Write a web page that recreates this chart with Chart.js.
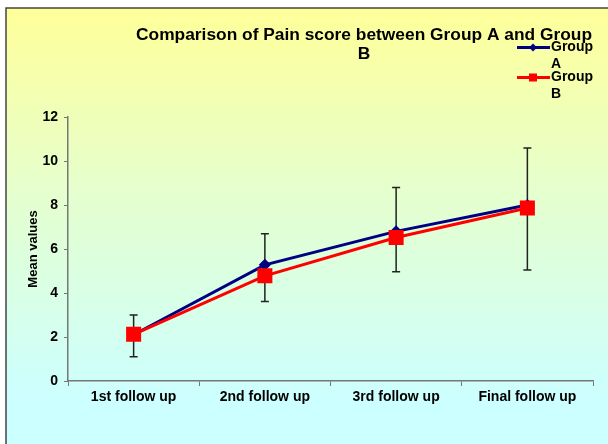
<!DOCTYPE html>
<html>
<head>
<meta charset="utf-8">
<script src="https://cdn.jsdelivr.net/npm/chart.js@4.4.0/dist/chart.umd.min.js"></script>
<style>
  html, body { margin: 0; padding: 0; background: #fff; overflow: hidden; }
  #wrap { width: 608px; height: 444px; }
</style>
</head>
<body>
<div id="wrap"><canvas id="myChart" width="608" height="444"></canvas></div>
<script>
const categories = ['1st follow up', '2nd follow up', '3rd follow up', 'Final follow up']
const groupA = [2.1, 5.28, 6.8, 8.0]
const groupB = [2.12, 4.78, 6.52, 7.86]
const errLow = [1.1, 3.61, 4.97, 5.05]
const errHigh = [3.0, 6.69, 8.8, 10.59]
const yTicks = [0, 2, 4, 6, 8, 10, 12]

const FONT = "'Liberation Sans', Arial, sans-serif"

// background + frame
const frame = {
  id: 'frame',
  beforeDraw(chart) {
    const c = chart.ctx
    c.save()
    c.fillStyle = '#fff'
    c.fillRect(0, 0, chart.width, chart.height)
    const g = c.createLinearGradient(0, 8, 0, 400)
    g.addColorStop(0, '#ffff99')
    g.addColorStop(0.45, '#e6ffcc')
    g.addColorStop(1, '#ccffff')
    c.fillStyle = g
    c.fillRect(6, 8, chart.width, chart.height)
    c.strokeStyle = '#444'
    c.lineWidth = 1.5
    c.strokeRect(6, 8, chart.width + 10, chart.height + 10)
    c.restore()
  }
}

// error bars drawn behind the lines
const errorBars = {
  id: 'errorBars',
  beforeDatasetsDraw(chart) {
    const c = chart.ctx
    const x = chart.scales.x
    const y = chart.scales.y
    c.save()
    c.strokeStyle = '#222'
    c.lineWidth = 1.5
    categories.forEach((cat, i) => {
      const px = x.getPixelForValue(i)
      const top = y.getPixelForValue(errHigh[i])
      const bot = y.getPixelForValue(errLow[i])
      c.beginPath()
      c.moveTo(px, top); c.lineTo(px, bot)
      c.moveTo(px - 4, top); c.lineTo(px + 4, top)
      c.moveTo(px - 4, bot); c.lineTo(px + 4, bot)
      c.stroke()
    })
    c.restore()
  }
}

// stretched text, the original title is drawn wide
const wideText = (c, txt, cx, cy, w) => {
  const m = c.measureText(txt).width
  c.save()
  c.translate(cx, cy)
  c.scale(w / m, 1)
  c.fillText(txt, 0, 0)
  c.restore()
}

// title and legend placed like the original
const titleLegend = {
  id: 'titleLegend',
  afterDraw(chart) {
    const c = chart.ctx
    c.save()
    c.fillStyle = '#000'
    c.textBaseline = 'middle'
    c.textAlign = 'center'
    c.font = 'bold 16px ' + FONT
    const line1 = 'Comparison of Pain score between Group A and Group'
    const k = 456 / c.measureText(line1).width
    wideText(c, line1, 364, 36, 456)
    wideText(c, 'B', 364, 55, c.measureText('B').width * k)

    const ds = chart.data.datasets
    const items = [[ds[0], 47.5], [ds[1], 77.5]]
    items.forEach(([d, ly]) => {
      c.strokeStyle = d.borderColor
      c.lineWidth = 3
      c.beginPath()
      c.moveTo(517, ly); c.lineTo(550, ly)
      c.stroke()
      c.fillStyle = d.borderColor
      if (d.pointStyle === 'rect') {
        c.fillRect(529, ly - 4, 8, 8)
      } else {
        c.beginPath()
        c.moveTo(533, ly - 4); c.lineTo(537, ly); c.lineTo(533, ly + 4); c.lineTo(529, ly)
        c.closePath(); c.fill()
      }
      c.fillStyle = '#000'
      c.textAlign = 'left'
      c.font = 'bold 14px ' + FONT
      const parts = d.label.split(' ')
      c.fillText(parts[0], 551, ly)
      c.fillText(parts[1], 551, ly + 16.5)
    })
    c.restore()
  }
}

const ctx = document.getElementById('myChart')

new Chart(ctx, {
  type: 'line',
  data: {
    labels: categories,
    datasets: [{
      label: 'Group A',
      data: groupA,
      borderColor: '#000080',
      backgroundColor: '#000080',
      borderWidth: 3,
      pointStyle: 'rectRot',
      pointRadius: 4,
      tension: 0,
      order: 1
    }, {
      label: 'Group B',
      data: groupB,
      borderColor: '#ff0000',
      backgroundColor: '#ff0000',
      borderWidth: 3,
      pointStyle: 'rect',
      pointRadius: 8.5,
      tension: 0,
      order: 0
    }]
  },
  options: {
    responsive: false,
    animation: false,
    layout: { padding: { left: 26, top: 117, right: 15, bottom: 0 } },
    plugins: {
      legend: { display: false },
      title: { display: false },
      tooltip: { enabled: false }
    },
    scales: {
      x: {
        offset: true,
        grid: { display: true, offset: true, drawOnChartArea: false, tickLength: 5, color: '#777' },
        border: { color: '#777', width: 1.5 },
        ticks: { color: '#000', font: { family: FONT, size: 14, weight: 'bold' }, padding: 3, maxRotation: 0 },
        afterFit(s) { s.height = 63 }
      },
      y: {
        min: 0,
        max: 12,
        afterBuildTicks(s) { s.ticks = yTicks.map(v => ({ value: v })) },
        grid: { display: true, drawOnChartArea: false, tickLength: 4, color: '#777' },
        border: { color: '#777', width: 1.5 },
        ticks: { color: '#000', font: { family: FONT, size: 14, weight: 'bold' }, padding: 6 },
        title: { display: true, text: 'Mean values', color: '#000', font: { family: FONT, size: 13, weight: 'bold' }, padding: 0 },
        afterFit(s) { s.width = 42 }
      }
    }
  },
  plugins: [frame, errorBars, titleLegend]
})
</script>
</body>
</html>
